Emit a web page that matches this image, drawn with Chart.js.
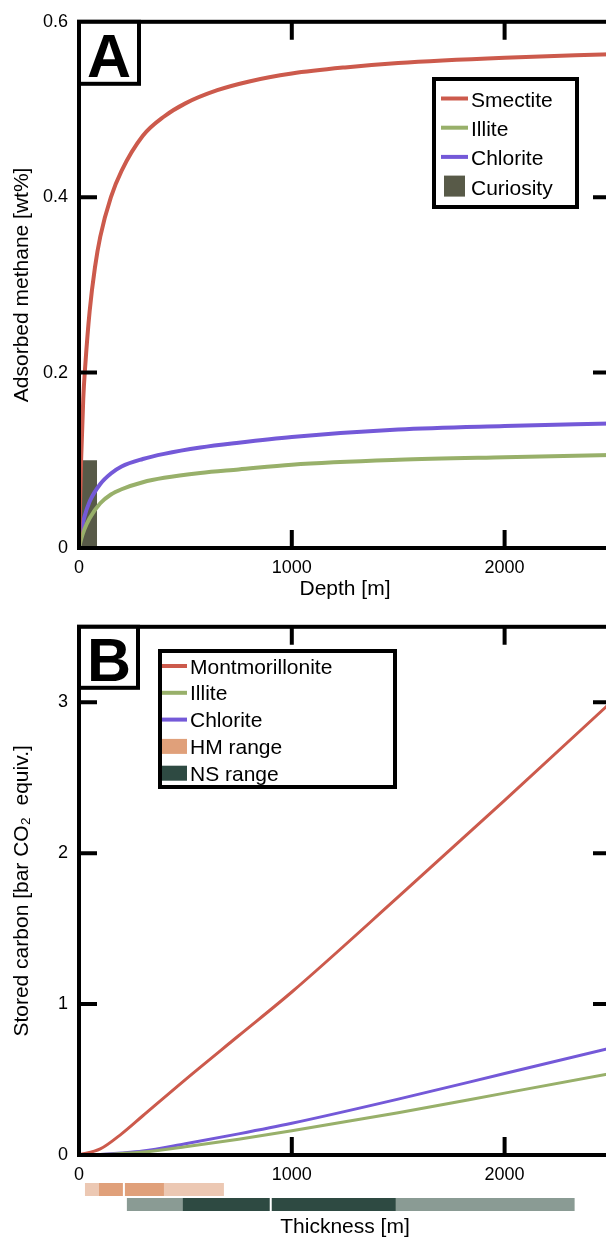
<!DOCTYPE html>
<html lang="fr">
<head>
<meta charset="utf-8">
<title>Méthane adsorbé et carbone stocké</title>
<script src="https://cdn.jsdelivr.net/npm/chart.js@4.4.1/dist/chart.umd.min.js"></script>
<style>
  html, body { margin: 0; padding: 0; background: #fff; overflow: hidden; }
  canvas { display: block; }
</style>
</head>
<body>
<canvas id="chartA" width="620" height="605"></canvas>
<canvas id="chartB" width="620" height="638"></canvas>
<script>
// --- Panneau A : méthane adsorbé selon la profondeur ---
const profSmectite = [0, 10, 20, 30, 50, 75, 100, 150, 200, 300, 400, 500, 650, 800, 1000, 1250, 1500, 2000, 2500];
const smectite     = [0, 0.1, 0.17, 0.21, 0.27, 0.32, 0.355, 0.4, 0.43, 0.47, 0.492, 0.507, 0.522, 0.532, 0.541, 0.548, 0.553, 0.559, 0.563];
const profondeurs = [0, 10, 25, 50, 100, 150, 200, 300, 400, 570, 750, 1000, 1500, 2000, 2500];
const illiteA     = [0, 0.01, 0.021, 0.034, 0.051, 0.061, 0.067, 0.075, 0.08, 0.0855, 0.0895, 0.095, 0.1005, 0.1035, 0.106];
const chloriteA   = [0, 0.018, 0.035, 0.053, 0.073, 0.085, 0.093, 0.1015, 0.1073, 0.1145, 0.12, 0.1265, 0.135, 0.139, 0.142];
const curiositeProf = [0, 85];
const curiositeMethane = 0.1;

// --- Panneau B : carbone stocké selon l'épaisseur ---
const epaisseurs      = [0, 100, 200, 300, 500, 750, 1000, 1500, 2000, 2500];
const montmorillonite = [0, 0.04, 0.14, 0.26, 0.5, 0.79, 1.08, 1.71, 2.35, 3.0];
const illiteB         = [0, 0.003, 0.01, 0.02, 0.055, 0.105, 0.16, 0.28, 0.41, 0.54];
const chloriteB       = [0, 0.004, 0.013, 0.026, 0.075, 0.14, 0.21, 0.37, 0.54, 0.71];

// plages d'épaisseur (min/max, intervalle central, repère)
const plageHM = [28, 681];
const centreHM = [94, 399];
const repereHM = 211;
const plageNS = [225, 2329];
const centreNS = [488, 1488];
const repereNS = 901;

// graduations
const ticksX = [0, 1000, 2000];
const ticksXLabels = ['0', '1000', '2000'];
const ticksMethane = [0, 0.2, 0.4, 0.6];
const ticksMethaneLabels = ['0', '0.2', '0.4', '0.6'];
const ticksCarbone = [0, 1, 2, 3];
const ticksCarboneLabels = ['0', '1', '2', '3'];

const rouge = '#cc5a4c';
const vert = '#98b06a';
const violet = '#7459d8';
const olive = '#585a48';
const hmFonce = '#e0a07a', hmClair = '#ecc8b3';
const nsFonce = '#2e4a42', nsClair = '#8a9b94';

const police = '"Liberation Sans", Arial, Helvetica, sans-serif';
Chart.defaults.font.family = police;
Chart.defaults.color = '#000';

function points(xs, ys) {
    return xs.map((x, i) => ({ x: x, y: ys[i] }));
}

function courbe(label, xs, ys, couleur, epaisseur) {
    return {
        label: label,
        data: points(xs, ys),
        borderColor: couleur,
        borderWidth: epaisseur,
        pointRadius: 0,
        fill: false,
        cubicInterpolationMode: 'monotone',
        order: 1
    };
}

// cadre noir, graduations intérieures et lettre du panneau
const cadre = {
    id: 'cadre',
    afterDatasetsDraw(chart, args, o) {
        const { ctx, chartArea: a, scales } = chart;
        ctx.save();
        ctx.strokeStyle = '#000';
        ctx.lineCap = 'butt';
        ctx.lineWidth = 4;
        ctx.strokeRect(a.left, a.top, a.right - a.left, a.bottom - a.top);

        ctx.beginPath();
        scales.x.ticks.forEach(t => {
            const px = scales.x.getPixelForValue(t.value);
            if (px <= a.left + 2 || px >= a.right - 2) return;
            ctx.moveTo(px, a.bottom); ctx.lineTo(px, a.bottom - 18);
            ctx.moveTo(px, a.top); ctx.lineTo(px, a.top + 18);
        });
        scales.y.ticks.forEach(t => {
            const py = scales.y.getPixelForValue(t.value);
            if (py <= a.top + 2 || py >= a.bottom - 2) return;
            ctx.moveTo(a.left, py); ctx.lineTo(a.left + 18, py);
            ctx.moveTo(a.right, py); ctx.lineTo(a.right - 18, py);
        });
        ctx.stroke();

        // boîte de la lettre
        ctx.fillStyle = '#fff';
        ctx.fillRect(a.left, a.top, o.w, o.h);
        ctx.strokeRect(a.left, a.top, o.w, o.h);
        ctx.fillStyle = '#000';
        ctx.font = 'bold 61px ' + police;
        ctx.textAlign = 'center';
        ctx.textBaseline = 'alphabetic';
        ctx.fillText(o.lettre, a.left + 30, a.top + o.base);
        ctx.restore();
    }
};

// légende encadrée
const legendeCadre = {
    id: 'legendeCadre',
    afterDraw(chart, args, o) {
        const ctx = chart.ctx;
        ctx.save();
        ctx.fillStyle = '#fff';
        ctx.fillRect(o.x, o.y, o.w, o.h);
        ctx.strokeStyle = '#000';
        ctx.lineWidth = 4;
        ctx.strokeRect(o.x, o.y, o.w, o.h);
        ctx.font = o.taille + 'px ' + police;
        ctx.textAlign = 'left';
        ctx.textBaseline = 'alphabetic';
        o.items.forEach((it, i) => {
            const cy = o.y0 + i * o.pas;
            if (it.type === 'ligne') {
                ctx.strokeStyle = it.couleur;
                ctx.lineWidth = 4;
                ctx.beginPath();
                ctx.moveTo(o.sx, cy);
                ctx.lineTo(o.sx + o.sw, cy);
                ctx.stroke();
            } else {
                ctx.fillStyle = it.couleur;
                ctx.fillRect(o.sx + it.dx, cy - it.h / 2, it.w, it.h);
            }
            ctx.fillStyle = '#000';
            ctx.fillText(it.label, o.tx, cy + o.decal);
        });
        ctx.restore();
    }
};

// barres des plages HM et NS sous l'axe des épaisseurs
const plages = {
    id: 'plages',
    afterDraw(chart, args, o) {
        const { ctx, scales } = chart;
        const x = scales.x;
        const px = v => x.getPixelForValue(v);
        ctx.save();
        o.barres.forEach(b => {
            ctx.fillStyle = b.clair;
            ctx.fillRect(px(b.plage[0]), b.y, px(b.plage[1]) - px(b.plage[0]), b.h);
            ctx.fillStyle = b.fonce;
            ctx.fillRect(px(b.centre[0]), b.y, px(b.centre[1]) - px(b.centre[0]), b.h);
            ctx.fillStyle = '#fff';
            ctx.fillRect(px(b.repere) - 1, b.y, 2, b.h);
        });
        ctx.restore();
    }
};

function echelleX(titre, hauteur) {
    return {
        type: 'linear',
        min: 0,
        max: 2500,
        grid: { display: false, drawTicks: false },
        border: { display: false },
        afterBuildTicks: s => { s.ticks = ticksX.map(v => ({ value: v })); },
        afterFit: s => { s.height = hauteur; },
        ticks: {
            padding: 9,
            maxRotation: 0,
            autoSkip: false,
            font: { size: 18 },
            callback: (v, i) => ticksXLabels[i]
        },
        title: {
            display: true,
            text: titre,
            font: { size: 21 },
            padding: { top: 0, bottom: 3 }
        }
    };
}

function echelleY(titre, max, valeurs, labels) {
    return {
        type: 'linear',
        min: 0,
        max: max,
        grid: { display: false, drawTicks: false },
        border: { display: false },
        afterBuildTicks: s => { s.ticks = valeurs.map(v => ({ value: v })); },
        afterFit: s => { s.width = 79; },
        ticks: {
            padding: 11,
            autoSkip: false,
            font: { size: 18 },
            callback: (v, i) => labels[i]
        },
        title: {
            display: true,
            text: titre,
            font: { size: 21 },
            padding: { top: 10, bottom: 0 }
        }
    };
}

// 1. Panneau A
new Chart(document.getElementById('chartA'), {
    type: 'line',
    data: {
        datasets: [
            courbe('Smectite', profSmectite, smectite, rouge, 4),
            courbe('Illite', profondeurs, illiteA, vert, 4),
            courbe('Chlorite', profondeurs, chloriteA, violet, 4),
            {
                label: 'Curiosity',
                data: [
                    { x: curiositeProf[0], y: 0 },
                    { x: curiositeProf[0], y: curiositeMethane },
                    { x: curiositeProf[1], y: curiositeMethane },
                    { x: curiositeProf[1], y: 0 }
                ],
                borderWidth: 0,
                borderColor: olive,
                backgroundColor: olive,
                pointRadius: 0,
                tension: 0,
                fill: 'origin',
                order: 5
            }
        ]
    },
    options: {
        responsive: false,
        animation: false,
        devicePixelRatio: 1,
        layout: { padding: { top: 16, right: 9, left: 0, bottom: 0 } },
        plugins: {
            legend: { display: false },
            tooltip: { enabled: false },
            cadre: { lettre: 'A', w: 60, h: 62, base: 55 },
            legendeCadre: {
                x: 434, y: 79, w: 143, h: 128,
                y0: 98.5, pas: 29.2, sx: 441, sw: 27, tx: 471, taille: 21, decal: 8.5,
                items: [
                    { label: 'Smectite', type: 'ligne', couleur: rouge },
                    { label: 'Illite', type: 'ligne', couleur: vert },
                    { label: 'Chlorite', type: 'ligne', couleur: violet },
                    { label: 'Curiosity', type: 'boite', couleur: olive, dx: 3, w: 21, h: 21 }
                ]
            }
        },
        scales: {
            x: echelleX('Depth [m]', 57),
            y: echelleY('Adsorbed methane [wt%]', 0.6, ticksMethane, ticksMethaneLabels)
        }
    },
    plugins: [cadre, legendeCadre]
});

// 2. Panneau B
new Chart(document.getElementById('chartB'), {
    type: 'line',
    data: {
        datasets: [
            courbe('Montmorillonite', epaisseurs, montmorillonite, rouge, 3),
            courbe('Illite', epaisseurs, illiteB, vert, 3),
            courbe('Chlorite', epaisseurs, chloriteB, violet, 3)
        ]
    },
    options: {
        responsive: false,
        animation: false,
        devicePixelRatio: 1,
        layout: { padding: { top: 15, right: 9, left: 0, bottom: 0 } },
        plugins: {
            legend: { display: false },
            tooltip: { enabled: false },
            cadre: { lettre: 'B', w: 59, h: 61, base: 54 },
            legendeCadre: {
                x: 160, y: 46, w: 235, h: 136,
                y0: 61, pas: 26.8, sx: 162, sw: 25, tx: 190, taille: 21, decal: 7.5,
                items: [
                    { label: 'Montmorillonite', type: 'ligne', couleur: rouge },
                    { label: 'Illite', type: 'ligne', couleur: vert },
                    { label: 'Chlorite', type: 'ligne', couleur: violet },
                    { label: 'HM range', type: 'boite', couleur: hmFonce, dx: 0, w: 25, h: 15 },
                    { label: 'NS range', type: 'boite', couleur: nsFonce, dx: 0, w: 25, h: 15 }
                ]
            },
            plages: {
                barres: [
                    { plage: plageHM, centre: centreHM, repere: repereHM, clair: hmClair, fonce: hmFonce, y: 578, h: 13 },
                    { plage: plageNS, centre: centreNS, repere: repereNS, clair: nsClair, fonce: nsFonce, y: 593, h: 13 }
                ]
            }
        },
        scales: {
            x: echelleX('Thickness [m]', 88),
            y: echelleY('Stored carbon [bar CO\u2082  equiv.]', 3.5, ticksCarbone, ticksCarboneLabels)
        }
    },
    plugins: [cadre, legendeCadre, plages]
});
</script>
</body>
</html>
